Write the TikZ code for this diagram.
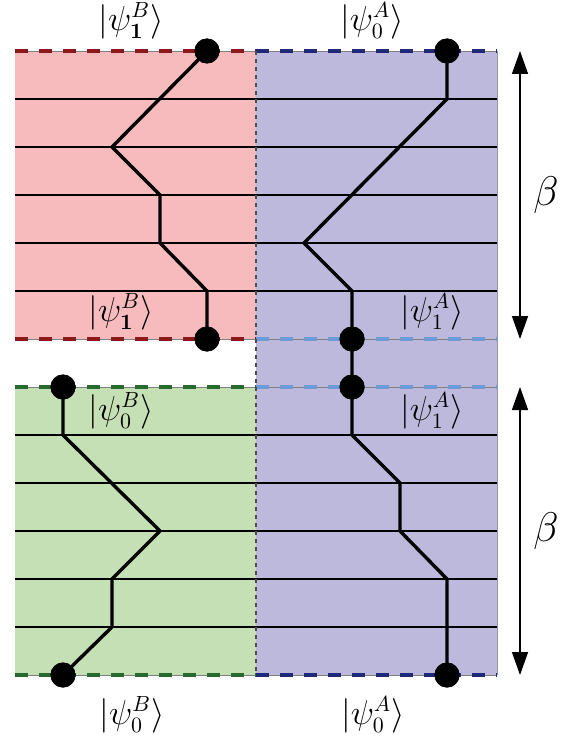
\documentclass[tikz,border=0pt]{standalone}
\usetikzlibrary{arrows.meta}
\definecolor{redfill}{RGB}{247,187,189}
\definecolor{bluefill}{RGB}{189,185,221}
\definecolor{greenfill}{RGB}{197,224,180}
\definecolor{darkred}{RGB}{140,24,30}
\definecolor{navy}{RGB}{32,40,120}
\definecolor{lightblue}{RGB}{110,155,215}
\definecolor{darkgreen}{RGB}{40,105,45}
\begin{document}
\begin{tikzpicture}[x=0.5pt,y=-0.5pt,
  dot/.style={circle,fill=black,inner sep=0pt,minimum size=12.5pt},
  grid/.style={black,line width=0.7pt},
  bound/.style={line width=1.6pt,dash pattern=on 6.5pt off 5.5pt},
  pathline/.style={black,line width=1.7pt,line join=miter},
  ket/.style={font=\fontsize{16}{19}\selectfont,inner sep=1pt},
  arr/.style={line width=0.7pt,{Triangle[length=11.5pt,width=8pt]}-{Triangle[length=11.5pt,width=8pt]}}]
\useasboundingbox (0,0) rectangle (571,738);
% regions
\fill[redfill] (15,51) rectangle (256,339);
\fill[greenfill] (15,387) rectangle (256,675);
\fill[bluefill] (256,51) rectangle (497,675);
\draw[bluefill!80!black,line width=0.4pt] (497,51) -- (497,675);
% grid lines
\foreach \y in {99,147,195,243,291,435,483,531,579,627}
  \draw[grid] (15,\y) -- (497,\y);
% boundaries (thin base line + dashes)
\foreach \y in {51,339,387,675}
  \draw[gray,line width=0.4pt] (15,\y) -- (497,\y);
\draw[bound,darkred] (15,51) -- (256,51);
\draw[bound,darkred] (15,339) -- (256,339);
\draw[bound,darkgreen] (15,387) -- (256,387);
\draw[bound,darkgreen] (15,675) -- (256,675);
\draw[bound,navy] (256,51) -- (497,51);
\draw[bound,lightblue] (256,339) -- (497,339);
\draw[bound,lightblue] (256,387) -- (497,387);
\draw[bound,navy] (256,675) -- (497,675);
\draw[black!70,line width=0.6pt,dash pattern=on 2pt off 2pt] (256,51) -- (256,675);
% path vertices
\node[dot] (bt) at (207,51) {};
\node[dot] (bm) at (207,339) {};
\node[dot] (at) at (447,51) {};
\node[dot] (am1) at (352,339) {};
\node[dot] (am2) at (352,387) {};
\node[dot] (bn) at (63,387) {};
\node[dot] (bb) at (63,675) {};
\node[dot] (ab) at (447,675) {};
\coordinate (b1) at (112,147);
\coordinate (b2) at (160,195);
\coordinate (b3) at (160,243);
\coordinate (b4) at (207,291);
\coordinate (a1) at (447,99);
\coordinate (a2) at (304,243);
\coordinate (a3) at (352,291);
\coordinate (c1) at (63,435);
\coordinate (c2) at (160,531);
\coordinate (c3) at (112,579);
\coordinate (c4) at (112,627);
\coordinate (d1) at (352,435);
\coordinate (d2) at (400,483);
\coordinate (d3) at (400,531);
\coordinate (d4) at (447,579);
\draw[pathline] (bt.center) -- (b1) -- (b2) -- (b3) -- (b4) -- (bm.center);
\draw[pathline] (at.center) -- (a1) -- (a2) -- (a3) -- (am1.center) -- (am2.center) -- (d1) -- (d2) -- (d3) -- (d4) -- (ab.center);
\draw[pathline] (bn.center) -- (c1) -- (c2) -- (c3) -- (c4) -- (bb.center);
\node[dot] at (bt) {};
\node[dot] at (bm) {};
\node[dot] at (at) {};
\node[dot] at (am1) {};
\node[dot] at (am2) {};
\node[dot] at (bn) {};
\node[dot] at (bb) {};
\node[dot] at (ab) {};
% labels
\node[ket] (l1) at (131,21) {$\Bigl|\psi_{\mathbf{1}}^B\Bigr\rangle$};
\node[ket] (l2) at (372,21) {$\Bigl|\psi_0^A\Bigr\rangle$};
\node[ket] (l3) at (121,312) {$\Bigl|\psi_{\mathbf{1}}^B\Bigr\rangle$};
\node[ket] (l4) at (432,312) {$\Bigl|\psi_1^A\Bigr\rangle$};
\node[ket] (l5) at (121,411) {$\Bigl|\psi_0^B\Bigr\rangle$};
\node[ket] (l6) at (432,411) {$\Bigl|\psi_1^A\Bigr\rangle$};
\node[ket] (l7) at (132,715) {$\Bigl|\psi_0^B\Bigr\rangle$};
\node[ket] (l8) at (373,715) {$\Bigl|\psi_0^A\Bigr\rangle$};
% beta arrows
\coordinate (t1) at (520,51);
\coordinate (t2) at (520,339);
\coordinate (t3) at (520,387);
\coordinate (t4) at (520,675);
\draw[arr] (t1) -- (t2);
\draw[arr] (t3) -- (t4);
\node[font=\huge] (be1) at (546,195) {$\beta$};
\node[font=\huge] (be2) at (546,531) {$\beta$};
\end{tikzpicture}
\end{document}
